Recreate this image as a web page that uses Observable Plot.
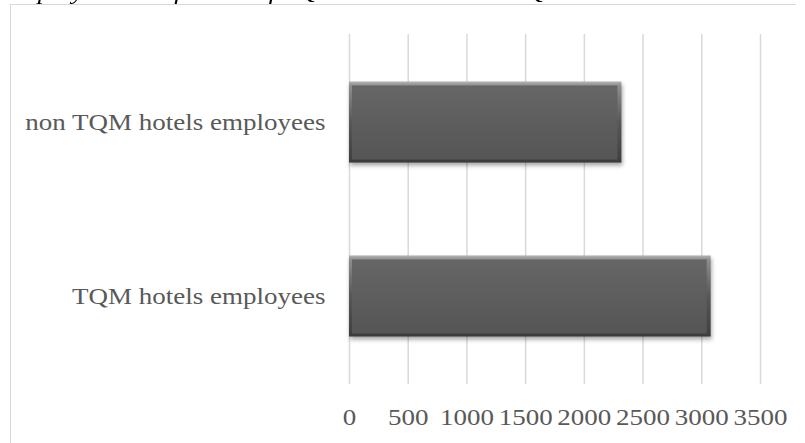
<!DOCTYPE html>
<html>
<head>
<meta charset="utf-8">
<script src="https://cdn.jsdelivr.net/npm/d3@7"></script>
<script src="https://cdn.jsdelivr.net/npm/@observablehq/plot@0.6"></script>
<style>
  html, body { margin: 0; padding: 0; background: #fff; overflow: hidden; }
  #wrap { position: relative; width: 805px; height: 443px; overflow: hidden; }
  #frame { position: absolute; left: 10px; top: 4px; width: 785px; height: 460px;
           border-top: 1.5px solid #d9d9d9; border-left: 1.5px solid #d9d9d9; }
  #title { position: absolute; left: 2px; top: -19px; white-space: nowrap;
           font: italic 22px/22px "Liberation Serif", serif; color: #000;
           transform: scaleX(1.22); transform-origin: 0 0; }
  #chart { position: absolute; left: 0; top: 0; }
</style>
</head>
<body>
<div id="wrap">
  <div id="frame"></div>
  <div id="title">Employees satisfaction of TQM hotels and non TQM hotels</div>
  <div id="chart"></div>
</div>
<script>
const categories = ["non TQM hotels employees", "TQM hotels employees"];
const values = [2320, 3080];
const xTicks = [0, 500, 1000, 1500, 2000, 2500, 3000, 3500];

const data = categories.map((c, i) => ({category: c, value: values[i]}));

const plot = Plot.plot({
  width: 805,
  height: 443,
  marginLeft: 349,
  marginRight: 45,
  marginTop: 34,
  marginBottom: 59,
  style: {fontFamily: "'Liberation Serif', serif", fontSize: "22.5px", color: "#595959", background: "transparent", overflow: "visible"},
  x: {domain: [0, 3500], ticks: xTicks, tickSize: 0, tickPadding: 25, tickFormat: d => String(d), label: null},
  y: {domain: categories, paddingInner: 0.534, paddingOuter: 0.273, round: false, tickSize: 0, tickPadding: 24, label: null},
  marks: [
    Plot.ruleX(xTicks, {stroke: "#d9d9d9", strokeWidth: 1.5}),
    Plot.barX(data, {y: "category", x: "value", fill: "url(#edgeGrad)"}),
    Plot.barX(data, {y: "category", x: "value", fill: "url(#faceGrad)", insetTop: 4, insetBottom: 3, insetLeft: 3, insetRight: 4})
  ]
});

// gradients for the bevelled bars
const svg = d3.select(plot);
const defs = svg.insert("defs", ":first-child");
const eg = defs.append("linearGradient").attr("id", "edgeGrad").attr("x1", 0).attr("y1", 0).attr("x2", 0).attr("y2", 1);
[[0, "#b4b4b4"], [0.05, "#8e8e8e"], [0.5, "#575757"], [0.95, "#414141"], [1, "#383838"]]
  .forEach(([o, c]) => eg.append("stop").attr("offset", o).attr("stop-color", c));
const fg = defs.append("linearGradient").attr("id", "faceGrad").attr("x1", 0).attr("y1", 0).attr("x2", 0).attr("y2", 1);
[[0, "#666666"], [1, "#555555"]]
  .forEach(([o, c]) => fg.append("stop").attr("offset", o).attr("stop-color", c));

const barGroups = svg.selectAll('g[aria-label="bar"]').nodes();
if (barGroups[0]) barGroups[0].style.filter = "drop-shadow(1px 3px 2px rgba(0,0,0,0.35))";

// stretch text horizontally like the reference
const S = 1.2;
svg.selectAll("text").each(function() {
  const t = this;
  const x = +(t.getAttribute("x") || 0);
  const tr = t.getAttribute("transform") || "";
  t.setAttribute("transform", `${tr} translate(${x},0) scale(${S},1) translate(${-x},0)`);
  t.setAttribute("fill", "#595959");
});

document.getElementById("chart").appendChild(plot);
</script>
</body>
</html>
